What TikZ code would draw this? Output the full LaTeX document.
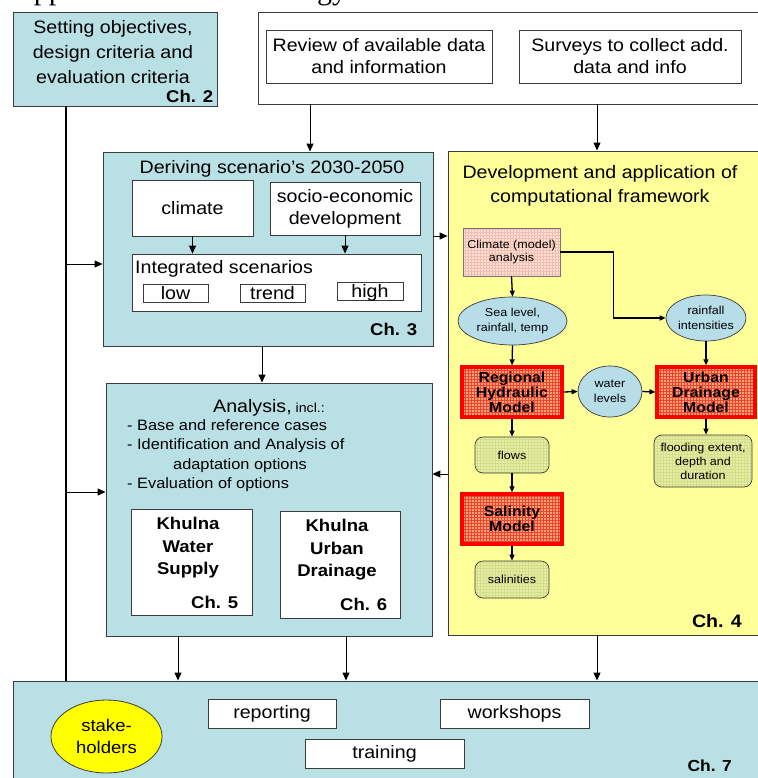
\documentclass[tikz,border=0pt]{standalone}
\usepackage{fontspec}
\setmainfont[FakeStretch=1.09]{Liberation Sans}
\newfontfamily\headingfont{Liberation Serif}
\usepackage{xcolor}
\usepackage{tikz}
\usetikzlibrary{positioning,arrows.meta,patterns,shapes.geometric}
\definecolor{boxline}{RGB}{60,60,60}
\definecolor{panelcolor}{RGB}{185,224,228}
\definecolor{frameworkcolor}{RGB}{255,255,153}
\definecolor{ovalcolor}{RGB}{183,221,232}
\definecolor{climfill}{RGB}{252,224,212}
\definecolor{climgrid}{RGB}{242,190,180}
\definecolor{modelfill}{RGB}{255,160,120}
\definecolor{modelgrid}{RGB}{235,70,45}
\definecolor{modelred}{RGB}{255,0,0}
\definecolor{resultfill}{RGB}{230,238,165}
\definecolor{resultgrid}{RGB}{212,222,138}
\definecolor{stakecolor}{RGB}{255,255,0}
\tikzset{
    panel/.style={rectangle, draw=boxline, line width=0.9pt, fill=panelcolor},
    white box/.style={rectangle, draw=boxline, line width=0.8pt, fill=white},
    framework/.style={rectangle, draw=boxline, line width=0.9pt, fill=frameworkcolor},
    big text/.style={font=\fontsize{18}{22}\selectfont, align=center},
    chapter/.style={font=\bfseries\fontsize{17}{17}\selectfont, inner sep=0pt, anchor=base east},
    clim box/.style={rectangle, draw=boxline!70, line width=0.5pt, preaction={fill=climfill}, pattern=grid, pattern color=climgrid, font=\fontsize{11.5}{13}\selectfont, align=center, inner sep=0pt},
    model box/.style={rectangle, draw=modelred, line width=3.2pt, preaction={fill=modelfill}, pattern=grid, pattern color=modelgrid, font=\bfseries\fontsize{14.5}{15}\selectfont, align=center, inner sep=0pt, minimum width=100pt, minimum height=50pt},
    result box/.style={rectangle, rounded corners=8pt, draw=boxline, line width=0.7pt, preaction={fill=resultfill}, pattern=grid, pattern color=resultgrid, font=\fontsize{11.5}{14}\selectfont, align=center, inner sep=0pt},
    quantity/.style={ellipse, draw=boxline, line width=0.7pt, fill=ovalcolor, font=\fontsize{11.5}{15}\selectfont, align=center, inner sep=0pt},
    scenario box/.style={white box, minimum width=65pt, minimum height=18pt, inner sep=2pt, text height=13pt, text depth=1pt, font=\fontsize{18}{18}\selectfont},
    outreach box/.style={white box, minimum height=29pt, font=\fontsize{18}{18}\selectfont},
    flow arrow/.style={-{Triangle[length=8pt,width=7pt]}, line width=1pt},
    model arrow/.style={-{Triangle[length=6pt,width=5pt]}, line width=1.3pt}
}

\begin{document}
\begin{tikzpicture}[x=1pt, y=-1pt]
    \useasboundingbox (0,0) rectangle (757,778);

    % Heading, cut off at the top edge
    \node[font=\headingfont\fontsize{30}{30}\selectfont, anchor=base west, inner sep=0pt] (heading) at (12,-0.3) {Approach and methodology:};

    % Objectives (Ch. 2)
    \node[panel, minimum width=204pt, minimum height=94pt] (setobj) at (115,59) {};
    \node[big text, font=\fontsize{18}{25}\selectfont, anchor=north, inner sep=0pt] (setobjtext) at (113,20) {Setting objectives,\\design criteria and\\evaluation criteria};
    \node[chapter] (ch2) at ([shift={(-4,-4)}]setobj.south east) {Ch. 2};

    % Data collection
    \node[white box, minimum width=507pt, minimum height=92pt] (topbox) at (511.5,58) {};
    \node[white box, big text, minimum width=226pt, minimum height=53pt, inner sep=0pt] (review) at (379,56.5) {Review of available data\\and information};
    \node[white box, big text, minimum width=222pt, minimum height=53pt, inner sep=0pt] (survey) at (630,56.5) {Surveys to collect add.\\data and info};

    % Scenarios (Ch. 3)
    \node[panel, minimum width=330pt, minimum height=194pt] (deriving) at (268,249) {};
    \node[big text, anchor=base, inner sep=0pt] (derivingtext) at (272,173) {Deriving scenario’s 2030-2050};
    \node[white box, big text, minimum width=121pt, minimum height=56pt] (climate) at (192.5,208) {climate};
    \node[white box, big text, minimum width=150pt, minimum height=53pt, inner sep=0pt] (socio) at (345,208.5) {socio-economic\\development};
    \node[white box, minimum width=289pt, minimum height=57pt] (integ) at (276.5,282.5) {};
    \node[big text, anchor=base west, inner sep=0pt] (integtext) at (135,273) {Integrated scenarios};
    \node[scenario box] (low) at (175.5,293) {low};
    \node[scenario box] (trend) at (272.5,293) {trend};
    \node[scenario box, minimum width=66pt] (high) at (370,291.5) {high};
    \node[chapter] (ch3) at ([shift={(-16,-11)}]deriving.south east) {Ch. 3};

    % Analysis (Ch. 5, 6)
    \node[panel, minimum width=326pt, minimum height=253pt] (analysis) at (269,509.5) {};
    \node[font=\fontsize{18}{18}\selectfont, anchor=base, inner sep=0pt] (antitle) at (269,412) {Analysis,{\fontsize{13}{13}\selectfont\ incl.:}};
    \node[font=\fontsize{15}{19.5}\selectfont, align=left, anchor=north west, inner sep=0pt] (anlist) at (127,419) {- Base and reference cases\\- Identification and Analysis of\\\hspace*{46pt}adaptation options\\- Evaluation of options};
    \node[white box, minimum width=121pt, minimum height=106pt] (kws) at (191.5,562) {};
    \node[font=\bfseries\fontsize{17}{22.5}\selectfont, align=center, anchor=north, inner sep=0pt] (kwstext) at (188,517) {Khulna\\Water\\Supply};
    \node[chapter] (ch5) at ([shift={(-14,-7)}]kws.south east) {Ch. 5};
    \node[white box, minimum width=120pt, minimum height=107pt] (kud) at (340,564.5) {};
    \node[font=\bfseries\fontsize{17}{22.5}\selectfont, align=center, anchor=north, inner sep=0pt] (kudtext) at (337,519) {Khulna\\Urban\\Drainage};
    \node[chapter] (ch6) at ([shift={(-13,-8)}]kud.south east) {Ch. 6};

    % Computational framework (Ch. 4)
    \node[framework, minimum width=317pt, minimum height=484pt] (compfw) at (606.5,393) {};
    \node[big text, font=\fontsize{18}{24}\selectfont, anchor=north, inner sep=0pt] (compfwtext) at (600,165) {Development and application of\\computational framework};
    \node[clim box, minimum width=97pt, minimum height=48pt] (climod) at (511.5,252) {Climate (model)\\analysis};
    \node[quantity, minimum width=109pt, minimum height=48pt] (sealevel) at (512.5,321) {Sea level,\\rainfall, temp};
    \node[quantity, minimum width=80pt, minimum height=46pt] (rainint) at (706,318) {rainfall\\intensities};
    \node[model box] (rhm) at (512,392) {Regional\\Hydraulic\\Model};
    \node[quantity, minimum width=64pt, minimum height=51pt] (waterlev) at (610,391.5) {water\\levels};
    \node[model box, minimum width=98pt] (udm) at (706,392) {Urban\\Drainage\\Model};
    \node[result box, minimum width=74pt, minimum height=36pt] (flows) at (512,455) {flows};
    \node[model box] (salmod) at (512,519) {Salinity\\Model};
    \node[result box, minimum width=74pt, minimum height=37pt] (salin) at (512,579.5) {salinities};
    \node[result box, minimum width=98pt, minimum height=52pt] (flood) at (703,461) {flooding extent,\\depth and\\duration};
    \node[chapter, font=\bfseries\fontsize{18}{18}\selectfont] (ch4) at (742,627) {Ch. 4};

    % Communication (Ch. 7)
    \node[panel, minimum width=752pt, minimum height=109pt] (bottombox) at (389,735.5) {};
    \node[ellipse, draw=boxline, line width=0.8pt, fill=stakecolor, minimum width=111pt, minimum height=73pt, inner sep=0pt, font=\fontsize{17}{22}\selectfont, align=center] (stake) at (106.5,736.5) {stake-\\holders};
    \node[outreach box, minimum width=128pt] (reporting) at (272,713.5) {reporting};
    \node[outreach box, minimum width=149pt] (workshops) at (514.5,713.5) {workshops};
    \node[outreach box, minimum width=159pt] (training) at (384.5,753.5) {training};
    \node[chapter, font=\bfseries\fontsize{16}{16}\selectfont] (ch7) at (732,771) {Ch. 7};

    % Connector ports
    \coordinate (spine) at (66,0);
    \coordinate (scenin) at (310,0);
    \coordinate (fwin) at (597,0);
    \coordinate (anin) at (262,0);
    \coordinate (kwsout) at (178,0);
    \coordinate (kudout) at (346,0);
    \coordinate (scenrow) at (0,264);
    \coordinate (anrow) at (0,492);
    \coordinate (linkrow) at (0,236);
    \coordinate (backrow) at (0,474);

    % Main flow
    \draw[line width=1.6pt] (setobj.south -| spine) -- (bottombox.north -| spine);
    \draw[flow arrow] (spine |- scenrow) -- (deriving.west |- scenrow);
    \draw[flow arrow] (spine |- anrow) -- (analysis.west |- anrow);
    \draw[flow arrow] (topbox.south -| scenin) -- (deriving.north -| scenin);
    \draw[flow arrow] (topbox.south -| fwin) -- (compfw.north -| fwin);
    \draw[flow arrow] (climate.south) -- (climate.south |- integ.north);
    \draw[flow arrow] (socio.south) -- (socio.south |- integ.north);
    \draw[flow arrow] (deriving.east |- linkrow) -- (compfw.west |- linkrow);
    \draw[flow arrow] (compfw.west |- backrow) -- (analysis.east |- backrow);
    \draw[flow arrow] (deriving.south -| anin) -- (analysis.north -| anin);
    \draw[flow arrow] (analysis.south -| kwsout) -- (bottombox.north -| kwsout);
    \draw[flow arrow] (analysis.south -| kudout) -- (bottombox.north -| kudout);
    \draw[flow arrow] (compfw.south -| fwin) -- (bottombox.north -| fwin);

    % Model chain
    \draw[model arrow] (climod.south) -- (sealevel.north);
    \draw[model arrow] (climod.east) -- ++(53,0) |- (rainint.west);
    \draw[model arrow] (sealevel.south) -- (rhm.north);
    \draw[model arrow] (rhm.east) -- (waterlev.west);
    \draw[model arrow] (waterlev.east) -- (udm.west);
    \draw[model arrow] (rainint.south) -- (udm.north);
    \draw[model arrow] (rhm.south) -- (flows.north);
    \draw[model arrow] (flows.south) -- (salmod.north);
    \draw[model arrow] (salmod.south) -- (salin.north);
    \draw[model arrow] (udm.south) -- (udm.south |- flood.north);
\end{tikzpicture}
\end{document}
